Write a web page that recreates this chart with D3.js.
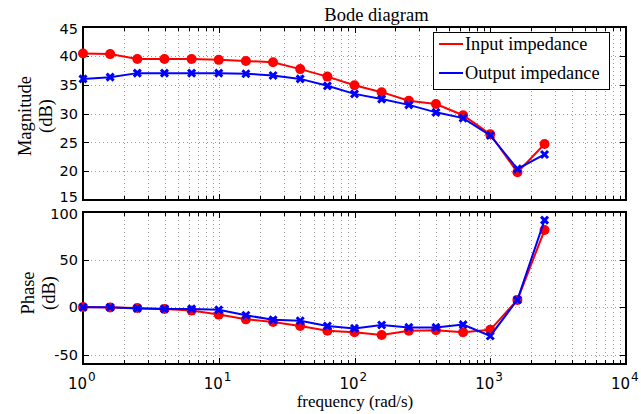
<!DOCTYPE html>
<html>
<head>
<meta charset="utf-8">
<script src="https://cdn.jsdelivr.net/npm/d3@7"></script>
<style>
  html, body { margin: 0; padding: 0; background: #fff; }
  svg { display: block; }
</style>
</head>
<body>
<svg id="chart" width="641" height="414"></svg>
<script>
// Frequencies (rad/s), 0.2-decade steps from 10^0 to 10^3.4
const freqExponents = [0, 0.2, 0.4, 0.6, 0.8, 1.0, 1.2, 1.4, 1.6, 1.8, 2.0, 2.2, 2.4, 2.6, 2.8, 3.0, 3.2, 3.4];
const frequencies = freqExponents.map(e => Math.pow(10, e));

// Magnitude (dB)
const inputMagnitude  = [40.4, 40.3, 39.45, 39.45, 39.45, 39.3, 39.1, 38.9, 37.7, 36.4, 34.9, 33.7, 32.2, 31.65, 29.7, 26.4, 19.8, 24.7];
const outputMagnitude = [36.0, 36.3, 37.0, 37.0, 37.0, 37.0, 36.9, 36.6, 36.0, 34.8, 33.4, 32.5, 31.5, 30.2, 29.2, 26.2, 20.4, 22.9];

// Phase
const inputPhase  = [0, -0.5, -1, -2, -3.8, -8, -13, -15.7, -20, -25, -26.5, -29.5, -25, -24.5, -26.5, -24, 7.5, 81];
const outputPhase = [-0.3, -0.3, -1.5, -2, -2, -3, -8.7, -13.5, -14.5, -20, -22.5, -19, -21.5, -21.5, -18.5, -30.5, 7.5, 91.5];

const magTicks = [15, 20, 25, 30, 35, 40, 45];
const phaseTicks = [-50, 0, 50, 100];
const decadeTicks = [0, 1, 2, 3, 4];
const seriesNames = ["Input impedance", "Output impedance"];

const svg = d3.select("#chart");
const left = 83, right = 626;

const x = d3.scaleLog().domain([1, 1e4]).range([left, right]);
const yMag = d3.scaleLinear().domain([15, 45]).range([200, 27]);
const yPh = d3.scaleLinear().domain([-60, 100]).range([364, 212]);

// minor log ticks for grid
const minorX = [];
for (let d = 0; d < 4; d++) for (let m = 2; m <= 9; m++) minorX.push(m * Math.pow(10, d));
const majorX = decadeTicks.map(e => Math.pow(10, e));

const sans = "DejaVu Sans, sans-serif";
const serif = "Liberation Serif, Times New Roman, serif";

function panel(y, ticks) {
  const [y0, y1] = [y.range()[0], y.range()[1]];
  const [dMin, dMax] = y.domain();
  const g = svg.append("g");
  // dotted grid
  const gridColor = "#9a9a9a";
  g.selectAll(".gx").data(minorX.concat(majorX.slice(1, -1))).enter().append("line")
    .attr("x1", d => Math.round(x(d)) + 0.5).attr("x2", d => Math.round(x(d)) + 0.5)
    .attr("y1", y1).attr("y2", y0)
    .attr("stroke", gridColor).attr("stroke-width", 1).attr("stroke-dasharray", "1,3");
  g.selectAll(".gy").data(ticks.filter(t => t > dMin && t < dMax)).enter().append("line")
    .attr("x1", left).attr("x2", right)
    .attr("y1", d => Math.round(y(d)) + 0.5).attr("y2", d => Math.round(y(d)) + 0.5)
    .attr("stroke", gridColor).attr("stroke-width", 1).attr("stroke-dasharray", "1,3");

  // inward ticks on all four sides
  const tickG = svg.append("g").attr("stroke", "#000").attr("stroke-width", 1);
  majorX.concat(minorX).forEach(d => {
    const len = majorX.includes(d) ? 6 : 4;
    const xx = Math.round(x(d)) + 0.5;
    tickG.append("line").attr("x1", xx).attr("x2", xx).attr("y1", y0).attr("y2", y0 - len);
    tickG.append("line").attr("x1", xx).attr("x2", xx).attr("y1", y1).attr("y2", y1 + len);
  });
  ticks.forEach(t => {
    const yy = Math.round(y(t)) + 0.5;
    tickG.append("line").attr("x1", left).attr("x2", left + 6).attr("y1", yy).attr("y2", yy);
    tickG.append("line").attr("x1", right).attr("x2", right - 6).attr("y1", yy).attr("y2", yy);
  });

  // y tick labels; labels on the frame edges are nudged inward
  svg.append("g").selectAll("text").data(ticks).enter().append("text")
    .attr("x", left - 5)
    .attr("y", d => y(d) + 5.2 + (d === dMin ? -3 : d === dMax ? 2 : 0))
    .attr("text-anchor", "end")
    .attr("font-family", sans).attr("font-size", 14.5)
    .text(d => d);

  // frame
  svg.append("rect").attr("x", left).attr("y", y1).attr("width", right - left).attr("height", y0 - y1)
    .attr("fill", "none").attr("stroke", "#000").attr("stroke-width", 2);
  return g;
}

function drawSeries(y, inVals, outVals) {
  const line = d3.line().x((d, i) => x(frequencies[i])).y(d => y(d));
  svg.append("path").datum(inVals).attr("d", line)
    .attr("fill", "none").attr("stroke", "#ff0000").attr("stroke-width", 2);
  svg.append("g").selectAll("circle").data(inVals).enter().append("circle")
    .attr("cx", (d, i) => x(frequencies[i])).attr("cy", d => y(d)).attr("r", 5)
    .attr("fill", "#ff0000");
  svg.append("path").datum(outVals).attr("d", line)
    .attr("fill", "none").attr("stroke", "#0000ff").attr("stroke-width", 2);
  const s = 3.5;
  svg.append("g").selectAll("path").data(outVals).enter().append("path")
    .attr("d", (d, i) => {
      const cx = x(frequencies[i]), cy = y(d);
      return `M${cx - s},${cy - s}L${cx + s},${cy + s}M${cx - s},${cy + s}L${cx + s},${cy - s}`;
    })
    .attr("stroke", "#0000ff").attr("stroke-width", 3).attr("fill", "none");
}

panel(yMag, magTicks);
drawSeries(yMag, inputMagnitude, outputMagnitude);
panel(yPh, phaseTicks);
drawSeries(yPh, inputPhase, outputPhase);

// x tick labels 10^n
const xl = svg.append("g").attr("font-family", sans).attr("font-size", 15);
decadeTicks.forEach(e => {
  const t = xl.append("text").attr("x", x(Math.pow(10, e)) - 15).attr("y", 388.5).attr("text-anchor", "start");
  t.append("tspan").text("10");
  t.append("tspan").attr("dx", 1).attr("dy", -8).attr("font-size", 12).text(e);
});

svg.append("text").attr("x", 355).attr("y", 407).attr("text-anchor", "middle")
  .attr("font-family", serif).attr("font-size", 17).text("frequency (rad/s)");
svg.append("text").attr("x", 376.5).attr("y", 21).attr("text-anchor", "middle")
  .attr("font-family", serif).attr("font-size", 18.5).text("Bode diagram");

function yLabel(cy, x1, x2, l1, l2) {
  svg.append("text").attr("transform", `translate(${x1},${cy}) rotate(-90)`).attr("text-anchor", "middle")
    .attr("font-family", serif).attr("font-size", 18.5).text(l1);
  svg.append("text").attr("transform", `translate(${x2},${cy}) rotate(-90)`).attr("text-anchor", "middle")
    .attr("font-family", serif).attr("font-size", 18.5).text(l2);
}
yLabel(116, 31, 52, "Magnitude", "(dB)");
yLabel(293, 34, 55, "Phase", "(dB)");

// legend
const lg = svg.append("g");
lg.append("rect").attr("x", 433.5).attr("y", 32.5).attr("width", 176).attr("height", 57)
  .attr("fill", "#fff").attr("stroke", "#000").attr("stroke-width", 1);
const legendColors = ["#ff0000", "#0000ff"];
seriesNames.forEach((n, i) => {
  const yy = 44 + i * 29;
  lg.append("line").attr("x1", 439).attr("x2", 463).attr("y1", yy).attr("y2", yy)
    .attr("stroke", legendColors[i]).attr("stroke-width", 2);
  lg.append("text").attr("x", 465).attr("y", yy + 6).attr("font-family", serif).attr("font-size", 18.3).text(n);
});
</script>
</body>
</html>
